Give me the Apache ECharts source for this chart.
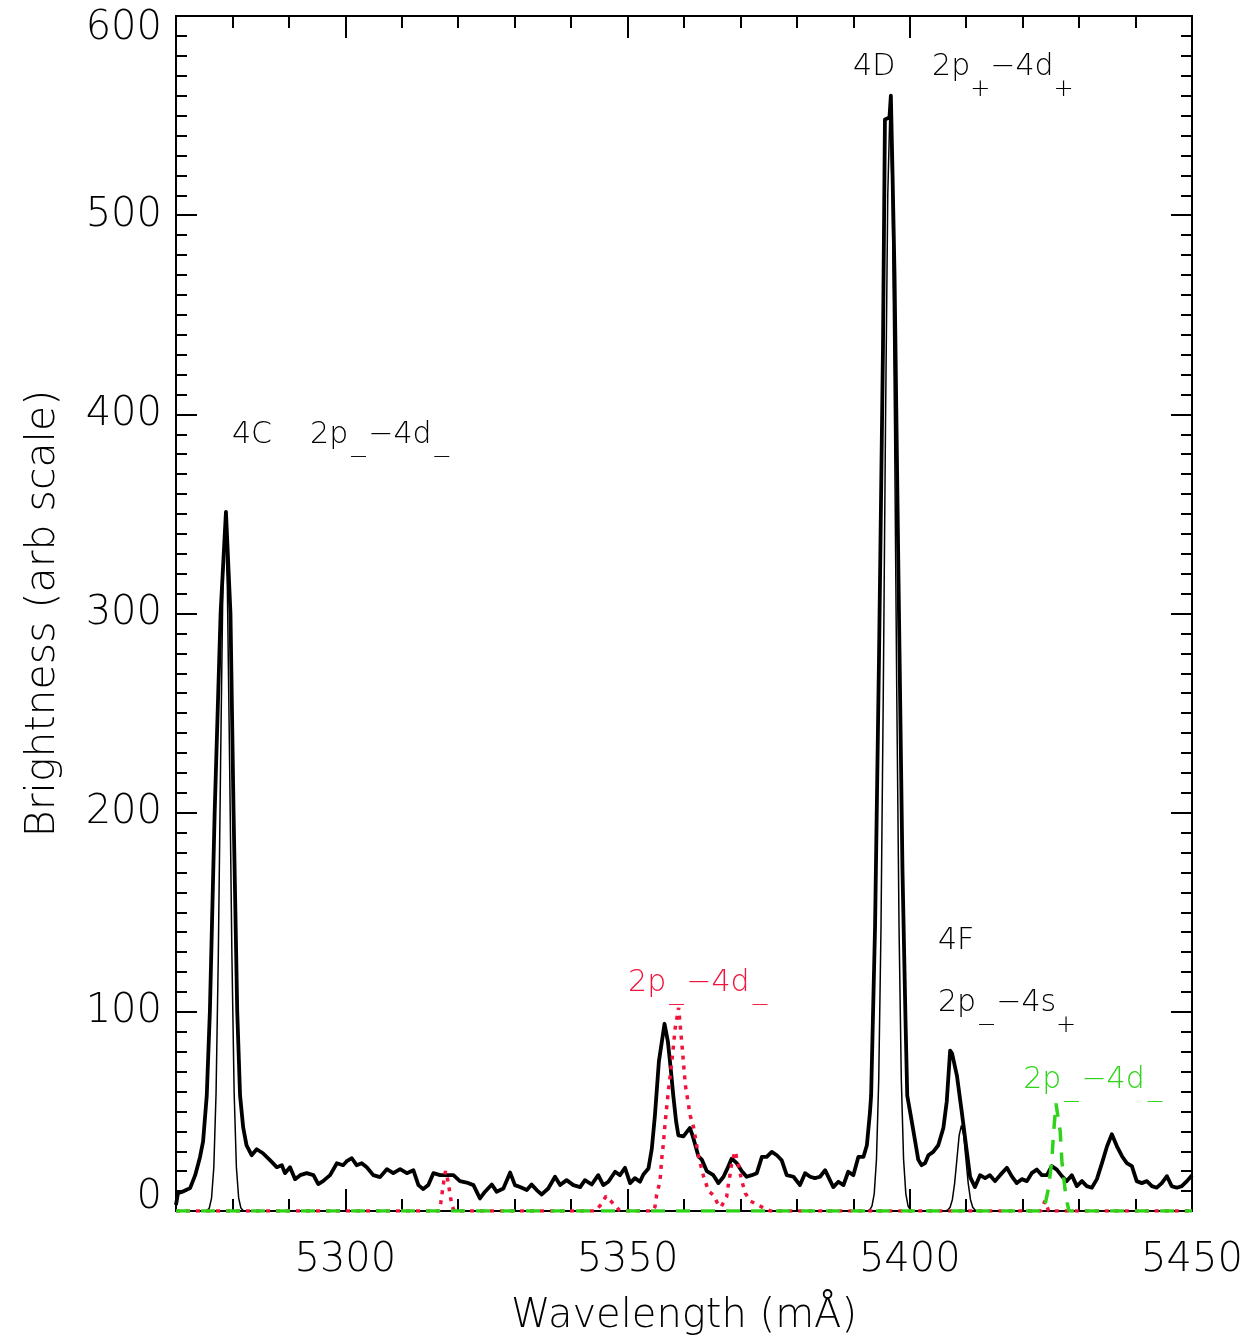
<!DOCTYPE html>
<html>
<head>
<meta charset="utf-8">
<script src="https://cdn.jsdelivr.net/npm/echarts@6/dist/echarts.min.js"></script>
<style>
html,body{margin:0;padding:0;background:#fff;}
#chart{width:1249px;height:1342px;}
</style>
</head>
<body>
<div id="chart"></div>
<script>
// ---------------- DATA ----------------
const xMin = 5270, xMax = 5450;
const yMin = 0, yMax = 600;
const xMajorTicks = [5300, 5350, 5400, 5450];
const xMinorTicks = [5280, 5290, 5310, 5320, 5330, 5340, 5360, 5370, 5380, 5390, 5410, 5420, 5430, 5440];

// measured spectrum (thick black) [wavelength mÅ, brightness]
const measured = [
[5270.0,3],[5270.35,9],[5271.4,10],[5272.5,11.5],[5273.4,18],[5274.25,27],[5274.8,35],[5275.45,58],[5276.0,100],[5276.85,200],[5277.9,300],[5278.85,351],[5279.65,300],[5280.2,200],[5280.85,100],[5281.35,58],[5281.9,42],[5282.5,33],[5283.4,28],[5284.3,31],[5285.4,29],[5286.65,25.5],[5287.85,22],[5288.75,23],[5289.3,19],[5290.2,22],[5291.1,16],[5292.0,18],[5293.15,19],[5294.35,18],[5295.2,13.5],[5296.05,15],[5297.3,18],[5298.5,24],[5299.6,23],[5300.25,25],[5301.15,26.5],[5302.0,23],[5302.9,24],[5303.8,22],[5304.95,18],[5306.15,17],[5307.35,21],[5308.5,19],[5309.7,21],[5310.9,19],[5312.05,20.5],[5312.95,13],[5313.8,11],[5314.7,13],[5315.6,19],[5316.8,18],[5317.95,18],[5319.15,18],[5320.3,15],[5321.5,14.3],[5322.7,13],[5323.85,6.3],[5324.75,9.7],[5325.95,13.3],[5326.8,9.7],[5328.0,11.3],[5329.2,19.3],[5330.05,13],[5330.95,12],[5332.15,10.5],[5333.0,13.3],[5333.9,10.5],[5334.8,8.3],[5335.95,11.3],[5337.15,17.2],[5338.05,13],[5339.2,15.5],[5340.4,13],[5341.6,12],[5342.45,15.5],[5343.65,13.3],[5344.8,18],[5345.7,13],[5346.6,14.7],[5347.8,19.7],[5348.65,18],[5349.55,21.7],[5350.45,14],[5351.3,16.5],[5352.2,14.7],[5352.8,18.3],[5353.7,21.3],[5354.3,31.3],[5354.85,48],[5355.55,75],[5356.55,94],[5357.15,85],[5357.7,70],[5358.1,58],[5358.6,45],[5359.0,38],[5359.9,37.5],[5361.05,41.7],[5361.65,36.7],[5362.55,27.5],[5363.15,25.8],[5364.05,20],[5365.2,18],[5366.1,14],[5367.0,17.2],[5367.55,20.5],[5368.45,26.3],[5369.35,24],[5370.25,20],[5371.1,17.2],[5372.0,18],[5372.9,19],[5373.8,27.2],[5374.65,27.2],[5375.55,29.7],[5376.45,28],[5377.3,25.5],[5378.2,18],[5379.4,17.2],[5380.55,13],[5381.45,19],[5382.35,17.2],[5383.2,16.5],[5384.1,17.2],[5385.0,20.5],[5385.85,15.5],[5386.45,12],[5387.35,14.7],[5388.25,13],[5389.1,19.7],[5390.0,18],[5390.9,27.2],[5391.8,27.2],[5392.4,33],[5392.95,49.7],[5393.15,58],[5393.85,143],[5394.55,278],[5395.25,433],[5395.6,548],[5396.4,549],[5396.65,560],[5396.95,520],[5397.3,470],[5398.0,318],[5398.7,172],[5399.25,95],[5399.55,58],[5400.35,45],[5400.95,35],[5401.5,25.8],[5402.1,23],[5402.7,24],[5403.3,28],[5404.15,29.7],[5405.05,33],[5405.95,41.7],[5406.55,55],[5407.15,80.5],[5407.5,79],[5408.35,68],[5409.2,50],[5410.1,30],[5410.7,17],[5411.55,12],[5412.45,18],[5413.35,16.5],[5414.2,18],[5415.1,15],[5416.0,18],[5417.2,21.7],[5418.05,17.5],[5418.95,14],[5419.85,16],[5420.75,15],[5421.6,19],[5422.5,20.8],[5423.4,18],[5424.3,18],[5425.15,22.5],[5426.05,20.8],[5426.95,17.5],[5427.8,15],[5428.7,18],[5429.6,12.5],[5430.5,15],[5431.35,12.5],[5432.25,11.7],[5433.15,16],[5434.05,24],[5434.95,32.5],[5435.8,38.5],[5436.7,32.5],[5437.6,27.5],[5438.45,24],[5439.35,22.5],[5440.2,15],[5441.1,14],[5442.0,15],[5442.9,12.5],[5443.75,11.7],[5444.65,14],[5445.55,17.5],[5446.4,12.5],[5447.3,11.7],[5448.2,12.5],[5449.1,15],[5450.0,18]
];

// fitted lines (thin black): 4C, 4D, 4F
const fitLines = [
[5270,0],[5275.5,0.3],[5275.9,1.5],[5276.3,6.5],[5276.7,22],[5277.1,59.5],[5277.5,129],[5277.9,225],[5278.3,313],[5278.7,350],[5279.1,313],[5279.5,225],[5279.9,129],[5280.3,59.5],[5280.7,22],[5281.1,6.5],[5281.5,1.5],[5281.9,0.3],[5282.3,0],
[5392.5,0],[5392.9,0.6],[5393.3,2.4],[5393.7,8.6],[5394.1,26],[5394.5,66],[5394.9,142],[5395.3,258],[5395.7,395],[5396.1,510],[5396.5,555],[5396.9,510],[5397.3,395],[5397.7,258],[5398.1,142],[5398.5,66],[5398.9,26],[5399.3,8.6],[5399.7,2.4],[5400.1,0.6],[5400.5,0],
[5406.35,0],[5406.75,0.5],[5407.15,1.9],[5407.55,5.8],[5407.95,14],[5408.35,26],[5408.75,38],[5409.15,43],[5409.55,38],[5409.95,26],[5410.35,14],[5410.75,5.8],[5411.15,1.9],[5411.55,0.5],[5411.95,0],[5450,0]
];

// red dotted: 2p_-4d_ component
const redComponent = [
[5270,0],[5316.6,0],[5316.9,4],[5317.2,10],[5317.45,15],[5317.75,20],[5318.05,17],[5318.35,12],[5318.65,6.5],[5319.0,2],[5319.3,0],
[5344.3,0],[5345.2,3],[5346.2,7.5],[5347.2,4.5],[5348.5,0.5],[5349.0,0],
[5354.5,0],[5354.85,2],[5355.15,8],[5355.75,15],[5356.05,26],[5356.35,34],[5356.65,44],[5357.25,61],[5357.85,75],[5358.45,92],[5359.05,102],[5359.65,83],[5360.25,63],[5361.1,48],[5361.7,42],[5362.6,27],[5363.5,17],[5364.35,10],[5365.2,8],[5366.1,3],[5366.55,2],[5366.95,4],[5367.55,7],[5367.85,13],[5368.15,18],[5368.45,24],[5369.05,30],[5369.65,23],[5370.25,15],[5370.85,9],[5371.75,5],[5373.2,3],[5374.4,1],[5375.3,0],
[5423.2,0],[5423.95,5],[5424.6,0],[5450,0]
];

// green dashed: 2p_-4d_ component
const greenComponent = [
[5270,0],[5423.6,0],[5423.95,3],[5424.55,11],[5425.15,25],[5425.45,38],[5425.9,54],[5426.65,40],[5426.95,25],[5427.5,11],[5427.9,4],[5428.2,0],[5450,0]
];

// annotation texts and their anchors (data coords, left / middle)
const labelTexts = ['4C', '{m|2p}{s|−}{m|−4d}{s|−}', '4D', '{m|2p}{s|+}{m|−4d}{s|+}', '{m|2p}{s|−}{m|−4d}{s|−}', '4F', '{m|2p}{s|−}{m|−4s}{s|+}', '{m|2p}{s|−}{m|−4d}{s|−}'];
const labelAnchors = [[5279.9,389.5],[5293.75,389.5],[5389.95,574.5],[5403.95,574.5],[5350.1,114.5],[5405.0,135.5],[5405.0,104.5],[5420.1,65.5]];
const labelColors = ['#000','#000','#000','#000','#f0143c','#000','#000','#2fd41a'];

const xName = 'Wavelength (mÅ)';
const yName = 'Brightness (arb scale)';

// ---------------- CHART ----------------
const FONT = '"DejaVu Sans ExtraLight", "DejaVu Sans", "Noto Sans", sans-serif';
const FW = 200;
const chart = echarts.init(document.getElementById('chart'), null, {renderer: 'canvas'});

const axisLineStyle = {color: '#000', width: 2};
function xAxisDef(pos, ticks, len, labels) {
  return {
    type: 'value', position: pos, min: xMin, max: xMax,
    axisLine: {show: true, onZero: false, lineStyle: axisLineStyle},
    axisTick: {show: true, inside: true, length: len, customValues: ticks, lineStyle: {color: '#000', width: 2}},
    axisLabel: labels ? {show: true, customValues: xMajorTicks, color: '#000', fontSize: 40, fontFamily: FONT, fontWeight: FW, margin: 30,
      formatter: v => String(v)} : {show: false},
    splitLine: {show: false},
    name: labels ? xName : '', nameLocation: 'middle', nameGap: 86,
    nameTextStyle: {color: '#000', fontSize: 40, fontFamily: FONT, fontWeight: FW}
  };
}
function yAxisDef(pos, labels) {
  return {
    type: 'value', position: pos, min: yMin, max: yMax, interval: 100,
    axisLine: {show: true, onZero: false, lineStyle: axisLineStyle},
    axisTick: {show: true, inside: true, length: 21, lineStyle: {color: '#000', width: 2}},
    minorTick: {show: true, splitNumber: 10, length: 11, lineStyle: {color: '#000', width: 2}},
    axisLabel: labels ? {show: true, color: '#000', fontSize: 40, lineHeight: 26, fontFamily: FONT, fontWeight: FW, margin: 14,
      verticalAlignMinLabel: 'bottom', verticalAlignMaxLabel: 'top'} : {show: false},
    splitLine: {show: false}, minorSplitLine: {show: false},
    name: labels ? yName : '', nameLocation: 'middle', nameGap: 112,
    nameTextStyle: {color: '#000', fontSize: 41, fontFamily: FONT, fontWeight: FW}
  };
}

const option = {
  animation: false,
  backgroundColor: '#fff',
  grid: {left: 176, right: 57, top: 16, bottom: 126, containLabel: false},
  xAxis: [
    xAxisDef('bottom', xMajorTicks, 22, true),
    xAxisDef('bottom', xMinorTicks, 12, false),
    xAxisDef('top', xMajorTicks, 22, false),
    xAxisDef('top', xMinorTicks, 12, false)
  ],
  yAxis: [yAxisDef('left', true), yAxisDef('right', false)],
  series: [
    {type: 'line', data: measured, showSymbol: false, lineStyle: {color: '#000', width: 3.8, join: 'round'}, z: 3},
    {type: 'line', data: fitLines, showSymbol: false, lineStyle: {color: '#000', width: 1.5}, z: 4},
    {type: 'line', data: redComponent, showSymbol: false, lineStyle: {color: '#f0143c', width: 3.5, type: [4, 6]}, z: 5},
    {type: 'line', data: greenComponent, showSymbol: false, lineStyle: {color: '#2fd41a', width: 3.5, type: [14, 11]}, z: 6}
  ]
};
chart.setOption(option);

const graphics = labelTexts.map((t, i) => {
  const p = chart.convertToPixel({xAxisIndex: 0, yAxisIndex: 0}, labelAnchors[i]);
  return {
    type: 'text', x: p[0], y: p[1], z: 100,
    style: {
      text: t, fill: labelColors[i], fontSize: 30, fontFamily: FONT, fontWeight: FW,
      align: 'left', verticalAlign: 'middle',
      rich: {
        m: {fontSize: 30, fontFamily: FONT, fontWeight: FW, lineHeight: 30, fill: labelColors[i]},
        s: {fontSize: 24, fontFamily: FONT, fontWeight: FW, lineHeight: 24, padding: [45, 0, 0, 0], fill: labelColors[i]}
      }
    }
  };
});
chart.setOption({graphic: graphics});
</script>
</body>
</html>
